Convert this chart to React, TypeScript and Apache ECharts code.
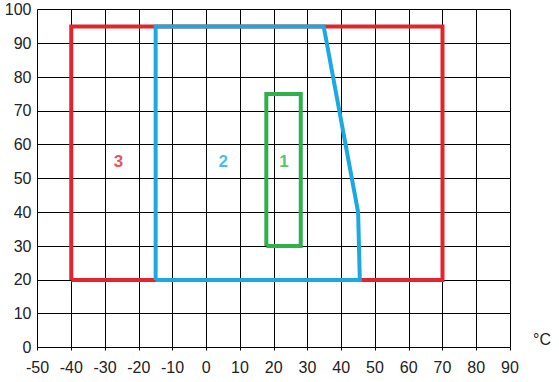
import React, { useEffect, useRef } from "react";
import * as echarts from "echarts";

const xTicks = [-50, 90];
const yTicks = [0, 100];
const zone3: [number, number][] = [[-40, 20], [-40, 95], [70, 95], [70, 20], [-40, 20]];
const zone2: [number, number][] = [[-15, 20], [-15, 95], [34.8, 95], [45, 40], [45.5, 20], [-15, 20]];
const zone1: [number, number][] = [[17.8, 30], [17.8, 75], [28, 75], [28, 30], [17.8, 30]];
const labels = [
  { name: "3", pos: [-26, 55], color: "#e4232c" },
  { name: "2", pos: [5, 55], color: "#1ba9e1" },
  { name: "1", pos: [23, 55], color: "#2eb04b" },
];

const FONT = "Liberation Sans, Arial, sans-serif";

export default function App() {
  const ref = useRef<HTMLDivElement>(null);
  useEffect(() => {
    const chart = echarts.init(ref.current!, undefined, { renderer: "svg" });
    const lineSeries = (data: [number, number][], color: string) => ({
      type: "line",
      data,
      symbol: "none",
      lineStyle: { color, width: 4, join: "miter" },
      z: 3,
    });
    chart.setOption({
      animation: false,
      backgroundColor: "#fff",
      grid: { left: 37.5, top: 9.5, right: 49, bottom: 34.5, containLabel: false },
      xAxis: {
        type: "value",
        min: xTicks[0],
        max: xTicks[1],
        interval: 10,
        axisLine: { show: true, onZero: false, lineStyle: { color: "#000", width: 1 } },
        axisTick: { show: true, length: 3, lineStyle: { color: "#000" } },
        splitLine: { show: true, lineStyle: { color: "#000", width: 1 } },
        axisLabel: { color: "#222", fontSize: 16, fontFamily: FONT, margin: 12 },
        name: "°C",
        nameLocation: "end",
        nameGap: 23,
        nameTextStyle: { color: "#222", fontSize: 16, fontFamily: FONT, verticalAlign: "bottom", padding: [0, 0, 0, 0] },
      },
      yAxis: {
        type: "value",
        min: yTicks[0],
        max: yTicks[1],
        interval: 10,
        axisLine: { show: true, lineStyle: { color: "#000", width: 1 } },
        axisTick: { show: false },
        splitLine: { show: true, lineStyle: { color: "#000", width: 1 } },
        axisLabel: { color: "#222", fontSize: 16, fontFamily: FONT, margin: 6 },
      },
      series: [
        lineSeries(zone3, "#e4232c"),
        lineSeries(zone2, "#1ba9e1"),
        lineSeries(zone1, "#2eb04b"),
        {
          type: "scatter",
          symbolSize: 0,
          z: 4,
          data: labels.map((l) => ({
            value: l.pos,
            label: {
              show: true,
              position: "inside",
              formatter: l.name,
              color: l.color,
              fontSize: 17,
              fontWeight: "bold",
              fontFamily: FONT,
            },
          })),
        },
      ],
    });
    return () => chart.dispose();
  }, []);
  return <div ref={ref} style={{ width: 559, height: 382, position: "absolute", left: 0, top: 0 }} />;
}
